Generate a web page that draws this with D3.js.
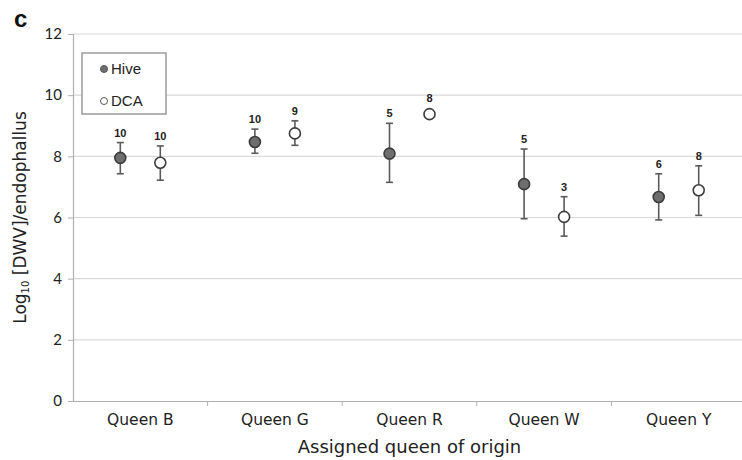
<!DOCTYPE html>
<html>
<head>
<meta charset="utf-8">
<script src="https://cdn.jsdelivr.net/npm/d3@7"></script>
<style>
  body { margin: 0; background: #fff; }
  svg { display: block; }
</style>
</head>
<body>
<div id="js-chart"></div>
<script>
// Data -------------------------------------
var queens = ['Queen B', 'Queen G', 'Queen R', 'Queen W', 'Queen Y'];
var groups = ['Hive', 'DCA'];
var hiveMean = [7.95, 8.47, 8.09, 7.09, 6.67];
var hiveLow = [7.43, 8.10, 7.15, 5.96, 5.92];
var hiveHigh = [8.45, 8.89, 9.08, 8.24, 7.43];
var hiveN = [10, 10, 5, 5, 6];
var dcaMean = [7.79, 8.75, 9.38, 6.02, 6.89];
var dcaLow = [7.22, 8.36, null, 5.39, 6.07];
var dcaHigh = [8.34, 9.16, null, 6.68, 7.69];
var dcaN = [10, 9, 8, 3, 8];
var yTicks = [0, 2, 4, 6, 8, 10, 12];

// Build rows for drawing
var rows = [];
queens.forEach(function(q, i) {
  rows.push({ queen: q, group: 'Hive', mean: hiveMean[i], low: hiveLow[i], high: hiveHigh[i], n: hiveN[i] });
  rows.push({ queen: q, group: 'DCA', mean: dcaMean[i], low: dcaLow[i], high: dcaHigh[i], n: dcaN[i] });
});

// Chart settings -------------------------------------
var width = 742;
var height = 460;
var plotLeft = 73, plotRight = 746, plotTop = 34, plotBottom = 401;

var svg = d3.select('#js-chart')
  .append('svg')
  .attr('width', width)
  .attr('height', height);

var x = d3.scaleBand().domain(queens).range([plotLeft, plotRight]);
var xInner = d3.scalePoint().domain(groups).range([-20, 20]);
var y = d3.scaleLinear().domain([0, 12]).range([plotBottom, plotTop]);

// Gridlines
svg.append('g')
  .selectAll('line')
  .data(yTicks.filter(function(d) { return d > 0; }))
  .enter()
  .append('line')
  .attr('x1', plotLeft)
  .attr('x2', plotRight)
  .attr('y1', function(d) { return y(d); })
  .attr('y2', function(d) { return y(d); })
  .attr('stroke', '#d9d9d9')
  .attr('stroke-width', 1.2);

// Y axis
var yAxis = svg.append('g')
  .attr('transform', 'translate(' + plotLeft + ',0)')
  .call(d3.axisLeft(y).tickValues(yTicks).tickSize(5).tickPadding(6));
yAxis.select('.domain').attr('stroke', '#b0b0b0').attr('stroke-width', 1.2);
yAxis.selectAll('.tick line').attr('stroke', '#b0b0b0');
yAxis.selectAll('text')
  .style('font-family', 'Lato, sans-serif')
  .style('font-size', '15px')
  .style('fill', '#222');

// X axis (ticks between categories)
var xAxis = svg.append('g')
  .attr('transform', 'translate(0,' + plotBottom + ')')
  .call(d3.axisBottom(x).tickSize(0).tickPadding(13));
xAxis.select('.domain').attr('stroke', '#b0b0b0').attr('stroke-width', 1.2);
xAxis.selectAll('text')
  .style('font-family', '"DejaVu Sans", sans-serif')
  .style('font-size', '15.5px')
  .style('fill', '#222');
xAxis.selectAll('.sep')
  .data(queens.slice(1))
  .enter()
  .append('line')
  .attr('class', 'sep')
  .attr('x1', function(d) { return x(d); })
  .attr('x2', function(d) { return x(d); })
  .attr('y1', 0)
  .attr('y2', 5)
  .attr('stroke', '#b0b0b0');

// Axis titles
svg.append('text')
  .attr('x', (plotLeft + plotRight) / 2)
  .attr('y', 453)
  .attr('text-anchor', 'middle')
  .style('font-family', '"DejaVu Sans", sans-serif')
  .style('font-size', '18px')
  .style('fill', '#222')
  .text('Assigned queen of origin');

var yTitle = svg.append('text')
  .attr('transform', 'translate(26,' + ((plotTop + plotBottom) / 2) + ') rotate(-90)')
  .attr('text-anchor', 'middle')
  .style('font-family', '"DejaVu Sans", sans-serif')
  .style('font-size', '17px')
  .style('fill', '#222');
yTitle.append('tspan').text('Log');
yTitle.append('tspan').attr('dy', 3).style('font-size', '10px').text('10');
yTitle.append('tspan').attr('dy', -3).text(' [DWV]/endophallus');

// Panel label
svg.append('text')
  .attr('x', 14)
  .attr('y', 27)
  .style('font-family', '"Liberation Sans", Arial, sans-serif')
  .style('font-weight', 'bold')
  .style('font-size', '24px')
  .style('fill', '#111')
  .text('c');

// Error bars -------------------------------------
var px = function(d) { return x(d.queen) + x.bandwidth() / 2 + xInner(d.group); };
var withErr = rows.filter(function(d) { return d.low != null; });

var bars = svg.append('g').selectAll('g')
  .data(withErr)
  .enter()
  .append('g')
  .attr('stroke', '#5a5a5a')
  .attr('stroke-width', 1.6);
bars.append('line')
  .attr('x1', px).attr('x2', px)
  .attr('y1', function(d) { return y(d.low); })
  .attr('y2', function(d) { return y(d.high); });
bars.append('line')
  .attr('x1', function(d) { return px(d) - 3.5; })
  .attr('x2', function(d) { return px(d) + 3.5; })
  .attr('y1', function(d) { return y(d.low); })
  .attr('y2', function(d) { return y(d.low); });
bars.append('line')
  .attr('x1', function(d) { return px(d) - 3.5; })
  .attr('x2', function(d) { return px(d) + 3.5; })
  .attr('y1', function(d) { return y(d.high); })
  .attr('y2', function(d) { return y(d.high); });

// Points
svg.append('g').selectAll('circle')
  .data(rows)
  .enter()
  .append('circle')
  .attr('cx', px)
  .attr('cy', function(d) { return y(d.mean); })
  .attr('r', 5.5)
  .attr('fill', function(d) { return d.group == 'Hive' ? '#6e6e6e' : '#fff'; })
  .attr('stroke', '#3c3c3c')
  .attr('stroke-width', 1.6);

// n labels
svg.append('g').selectAll('text')
  .data(rows)
  .enter()
  .append('text')
  .attr('x', px)
  .attr('y', function(d) {
    return d.high != null ? y(d.high) - 6 : y(d.mean) - 12;
  })
  .attr('text-anchor', 'middle')
  .style('font-family', '"Liberation Sans", Arial, sans-serif')
  .style('font-weight', 'bold')
  .style('font-size', '11px')
  .style('fill', '#222')
  .text(function(d) { return d.n; });

// Legend -------------------------------------
var legend = svg.append('g');
legend.append('rect')
  .attr('x', 82).attr('y', 53)
  .attr('width', 84).attr('height', 61)
  .attr('fill', '#fff')
  .attr('stroke', '#9a9a9a')
  .attr('stroke-width', 1.5);
var legendItem = legend.selectAll('g')
  .data(groups)
  .enter()
  .append('g')
  .attr('transform', function(d, i) { return 'translate(104,' + (69 + i * 32) + ')'; });
legendItem.append('circle')
  .attr('r', 3.5)
  .attr('fill', function(d) { return d == 'Hive' ? '#6e6e6e' : '#fff'; })
  .attr('stroke', '#555')
  .attr('stroke-width', 1);
legendItem.append('text')
  .attr('x', 7)
  .attr('dy', '0.36em')
  .style('font-family', '"Liberation Sans", Arial, sans-serif')
  .style('font-size', '15px')
  .style('fill', '#222')
  .text(function(d) { return d; });
</script>
</body>
</html>
